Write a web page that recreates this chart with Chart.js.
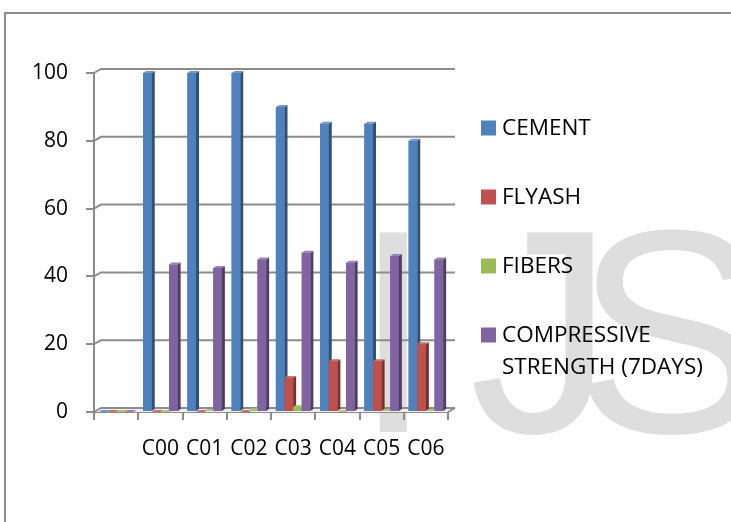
<!DOCTYPE html>
<html>
<head>
<meta charset="utf-8">
<script src="https://cdn.jsdelivr.net/npm/chart.js@4.4.1/dist/chart.umd.min.js"></script>
<style>
  html, body { margin: 0; padding: 0; background: #ffffff; overflow: hidden; }
  #wrap { position: relative; width: 731px; height: 522px; }
  #frame {
    position: absolute; left: 4px; top: 12px; width: 740px; height: 520px;
    border-left: 2px solid #8c8c8c; border-top: 2px solid #8c8c8c;
    pointer-events: none;
  }
  canvas { position: absolute; left: 0; top: 0; }
</style>
</head>
<body>
<div id="wrap">
  <canvas id="chart" width="731" height="522"></canvas>
  <div id="frame"></div>
</div>
<script>
// Mix proportions and 7-day strength per mix
const categories = ['', 'C00', 'C01', 'C02', 'C03', 'C04', 'C05', 'C06'];
const cement = [0, 100, 100, 100, 90, 85, 85, 80];
const flyash = [0, 0, 0, 0, 10, 15, 15, 20];
const fibers = [0, 0, 0.3, 0.5, 1.5, 0, 0.3, 0.3];
const compressive = [0, 43.5, 42.5, 45, 47, 44, 46, 45];
const seriesNames = ['CEMENT', 'FLYASH', 'FIBERS', 'COMPRESSIVE STRENGTH (7DAYS)'];
const seriesColors = ['#4F81BD', '#C0504D', '#9BBB59', '#8064A2'];
const yMin = 0, yMax = 100, yStep = 20;

const FONT = "'Open Sans', 'Noto Sans', sans-serif";
const AXIS_GREY = '#8c8c8c';

function shade(hex, f) {
  const n = parseInt(hex.slice(1), 16);
  let r = (n >> 16) & 255, g = (n >> 8) & 255, b = n & 255;
  const m = c => Math.max(0, Math.min(255, Math.round(f < 1 ? c * f : c + (255 - c) * (f - 1))));
  return 'rgb(' + m(r) + ',' + m(g) + ',' + m(b) + ')';
}

// Large faint lettering behind everything
const watermark = {
  id: 'watermark',
  beforeDraw(chart) {
    const ctx = chart.ctx;
    ctx.save();
    ctx.fillStyle = '#dedede';
    ctx.font = "290px 'Liberation Sans', Arial, sans-serif";
    ctx.textBaseline = 'alphabetic';
    ctx.fillText('I', 353, 432);
    ctx.fillText('J', 469, 432);
    ctx.fillText('S', 574, 432);
    ctx.restore();
  }
};

// Back wall gridlines and floor, drawn with a slight depth offset
const wall = {
  id: 'wall',
  beforeDatasetsDraw(chart) {
    const ctx = chart.ctx, a = chart.chartArea, ys = chart.scales.y;
    const dx = 7, dy = 4;
    ctx.save();
    const y0 = ys.getPixelForValue(0);
    ctx.fillStyle = '#eeeeee';
    ctx.beginPath();
    ctx.moveTo(a.left, y0);
    ctx.lineTo(a.left + dx, y0 - dy);
    ctx.lineTo(a.right + dx, y0 - dy);
    ctx.lineTo(a.right, y0);
    ctx.closePath();
    ctx.fill();
    ctx.strokeStyle = AXIS_GREY;
    ctx.lineWidth = 2;
    ys.ticks.forEach(t => {
      const y = ys.getPixelForValue(t.value);
      ctx.beginPath();
      ctx.moveTo(a.left, y);
      ctx.lineTo(a.left + dx, y - dy);
      ctx.lineTo(a.right + dx, y - dy);
      ctx.stroke();
    });
    ctx.beginPath();
    ctx.moveTo(a.right, y0);
    ctx.lineTo(a.right + dx, y0 - dy);
    ctx.stroke();
    ctx.restore();
  }
};

// Bars are repainted series by series (left to right inside a group) with
// their side and top faces, so each bar hides the side face of its neighbour.
const barFaces = {
  id: 'barFaces',
  afterDatasetsDraw(chart) {
    const ctx = chart.ctx;
    const dx = 3, dy = 2;
    ctx.save();
    chart.data.datasets.forEach((ds, i) => {
      const meta = chart.getDatasetMeta(i);
      const col = ds.backgroundColor;
      meta.data.forEach(bar => {
        bar.draw(ctx);
        const p = bar.getProps(['x', 'y', 'base', 'width'], true);
        const x1 = p.x - p.width / 2, x2 = p.x + p.width / 2;
        const top = Math.min(p.y, p.base), base = Math.max(p.y, p.base);
        ctx.fillStyle = shade(col, 0.62);
        ctx.beginPath();
        ctx.moveTo(x2, top);
        ctx.lineTo(x2 + dx, top - dy);
        ctx.lineTo(x2 + dx, base - dy);
        ctx.lineTo(x2, base);
        ctx.closePath();
        ctx.fill();
        ctx.fillStyle = shade(col, 1.18);
        ctx.beginPath();
        ctx.moveTo(x1, top);
        ctx.lineTo(x2, top);
        ctx.lineTo(x2 + dx, top - dy);
        ctx.lineTo(x1 + dx, top - dy);
        ctx.closePath();
        ctx.fill();
      });
    });
    ctx.restore();
  }
};

// Legend on the right with word wrapping
const sideLegend = {
  id: 'sideLegend',
  afterDraw(chart) {
    const ctx = chart.ctx;
    const boxX = 481, textX = 502, startY = 128, gap = 69, lineH = 32, maxW = 225, box = 15;
    ctx.save();
    ctx.font = '22.5px ' + FONT;
    ctx.textBaseline = 'middle';
    chart.data.datasets.forEach((ds, i) => {
      const cy = startY + i * gap;
      ctx.fillStyle = ds.backgroundColor;
      ctx.fillRect(boxX, cy - box / 2, box, box);
      const words = ds.label.split(' ');
      const lines = [];
      let cur = '';
      words.forEach(w => {
        const t = cur ? cur + ' ' + w : w;
        if (ctx.measureText(t).width > maxW && cur) { lines.push(cur); cur = w; }
        else cur = t;
      });
      if (cur) lines.push(cur);
      ctx.fillStyle = '#000';
      lines.forEach((ln, k) => ctx.fillText(ln, textX, cy + 1 + k * lineH));
    });
    ctx.restore();
  }
};

const seriesValues = [cement, flyash, fibers, compressive];
const datasets = seriesValues.map((vals, i) => ({
  label: seriesNames[i],
  data: vals,
  backgroundColor: seriesColors[i],
  borderWidth: 0,
  categoryPercentage: 0.78,
  barPercentage: 1.0
}));

new Chart(document.getElementById('chart'), {
  type: 'bar',
  data: { labels: categories, datasets: datasets },
  options: {
    responsive: false,
    devicePixelRatio: 1,
    animation: false,
    layout: { padding: { left: 0, top: 73, right: 283, bottom: 0 } },
    plugins: { legend: { display: false }, tooltip: { enabled: false } },
    scales: {
      x: {
        afterFit(s) { s.height = 110; },
        grid: { offset: true, drawOnChartArea: false, tickLength: 8, color: AXIS_GREY, lineWidth: 2 },
        border: { color: AXIS_GREY, width: 2 },
        ticks: { color: '#000', font: { family: FONT, size: 21 }, padding: 16, maxRotation: 0, autoSkip: false }
      },
      y: {
        min: yMin, max: yMax,
        afterFit(s) { s.width = 94; },
        grid: { drawOnChartArea: false, tickLength: 8, color: AXIS_GREY, lineWidth: 2 },
        border: { color: AXIS_GREY, width: 2 },
        ticks: { stepSize: yStep, color: '#000', font: { family: FONT, size: 21 }, padding: 18 }
      }
    }
  },
  plugins: [watermark, wall, barFaces, sideLegend]
});
</script>
</body>
</html>
